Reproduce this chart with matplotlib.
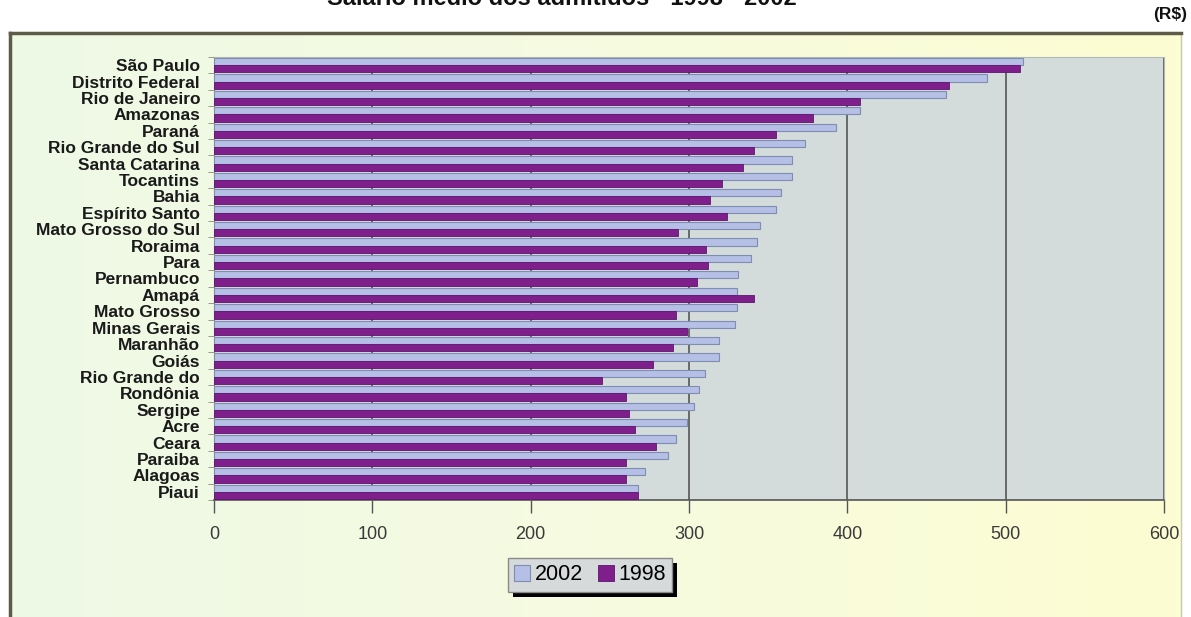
import numpy as np
import matplotlib
matplotlib.use("Agg")
import matplotlib.pyplot as plt
from matplotlib.patches import Rectangle
from matplotlib.colors import LinearSegmentedColormap

states = ["São Paulo", "Distrito Federal", "Rio de Janeiro", "Amazonas", "Paraná",
          "Rio Grande do Sul", "Santa Catarina", "Tocantins", "Bahia", "Espírito Santo",
          "Mato Grosso do Sul", "Roraima", "Para", "Pernambuco", "Amapá", "Mato Grosso",
          "Minas Gerais", "Maranhão", "Goiás", "Rio Grande do", "Rondônia", "Sergipe",
          "Acre", "Ceara", "Paraiba", "Alagoas", "Piaui"]
v2002 = [511, 488, 462, 408, 393, 373, 365, 365, 358, 355, 345, 343, 339, 331, 330, 330,
         329, 319, 319, 310, 306, 303, 299, 292, 287, 272, 268]
v1998 = [509, 464, 408, 378, 355, 341, 334, 321, 313, 324, 293, 311, 312, 305, 341, 292,
         299, 290, 277, 245, 260, 262, 266, 279, 260, 260, 268]
xticks = [0, 100, 200, 300, 400, 500, 600]

W, H = 1191, 617
fig = plt.figure(figsize=(W / 100, H / 100), dpi=100)
fig.patch.set_facecolor("white")

def fx(px):
    return px / W

def fy(py):
    return 1 - py / H

# outer chart frame with gradient background
bg = fig.add_axes([fx(10), 0, fx(1181) - fx(10), fy(33)])
grad = np.linspace(0, 1, 256)[None, :]
cm = LinearSegmentedColormap.from_list("bg", ["#eef9e6", "#f6fbe0", "#fdfdd2"])
bg.imshow(grad, aspect="auto", cmap=cm, extent=[0, 1, 0, 1])
bg.set_xlim(0, 1); bg.set_ylim(0, 1)
bg.set_xticks([]); bg.set_yticks([])
bg.spines["bottom"].set_visible(False)
for s in ["top", "left"]:
    bg.spines[s].set_color("#5c5c48")
    bg.spines[s].set_linewidth(2.5)
bg.spines["right"].set_color("#c8c8b0")
bg.spines["right"].set_linewidth(1)
bg.set_zorder(0)

ax = fig.add_axes([fx(214), fy(500), fx(1164) - fx(214), fy(57) - fy(500)])
ax.set_zorder(1)
ax.set_facecolor("#d3dbdb")
n = len(states)
y = np.arange(n)
h = 0.44
ax.barh(y - h / 2, v2002, height=h, color="#b6bfe6", edgecolor="#7f8db0", linewidth=0.8,
        label="2002", zorder=3)
ax.barh(y + h / 2, v1998, height=h, color="#7e1f8c", edgecolor="#5e1570", linewidth=0.6,
        label="1998", zorder=3)
ax.set_ylim(n - 0.5, -0.5)
ax.set_xlim(0, 600)
ax.set_xticks(xticks)
ax.set_xticklabels([str(t) for t in xticks], fontsize=13, color="#3a3a3a",
                   fontfamily="Liberation Sans")
ax.tick_params(axis="x", length=9, width=1, color="#555555", pad=10, direction="out")
ax.set_yticks(y)
ax.set_yticklabels(states, fontsize=12.5, fontweight="bold", fontfamily="Liberation Sans",
                   color="#1a1a1a")
ax.tick_params(axis="y", length=0, pad=10)
ax.set_yticks(np.arange(n + 1) - 0.5, minor=True)
ax.tick_params(axis="y", which="minor", length=4, color="#888888")
ax.grid(axis="x", color="#555555", linewidth=1.2, zorder=1)
ax.set_axisbelow(True)
for s in ["top", "right"]:
    ax.spines[s].set_color("#b0b8b8")
    ax.spines[s].set_linewidth(0.8)
ax.spines["left"].set_color("#888888")
ax.spines["bottom"].set_color("#555555")
ax.spines["bottom"].set_linewidth(1.2)

# legend with shadow
leg = fig.legend(loc="center", bbox_to_anchor=(fx(590), fy(575)), ncol=2,
                 prop={"family": "Liberation Sans", "size": 15.5},
                 frameon=True, fancybox=False, shadow=False, handlelength=0.75,
                 handleheight=0.75, handletextpad=0.2, columnspacing=0.7,
                 borderpad=0.3, borderaxespad=0, edgecolor="#8a8a8a",
                 facecolor="#d6dada", framealpha=1)
leg.get_frame().set_linewidth(1)
leg.set_zorder(5)
fig.canvas.draw()
bb = leg.get_window_extent().transformed(fig.transFigure.inverted())
off_x, off_y = 5 / W, 5 / H
sh = Rectangle((bb.x0 + off_x, bb.y0 - off_y), bb.width, bb.height,
               transform=fig.transFigure, facecolor="black", edgecolor="none", zorder=4)
fig.add_artist(sh)

fig.text(fx(562), fy(5), "Salário médio dos admitidos - 1998 - 2002", ha="center",
         va="baseline", fontsize=17, fontweight="bold", fontfamily="Liberation Sans",
         color="#111111")
fig.text(fx(1187), fy(14), "(R$)", ha="right", va="center", fontsize=12.5,
         fontweight="bold", fontfamily="Liberation Sans", color="#111111")

fig.savefig("out.png", dpi=100)
